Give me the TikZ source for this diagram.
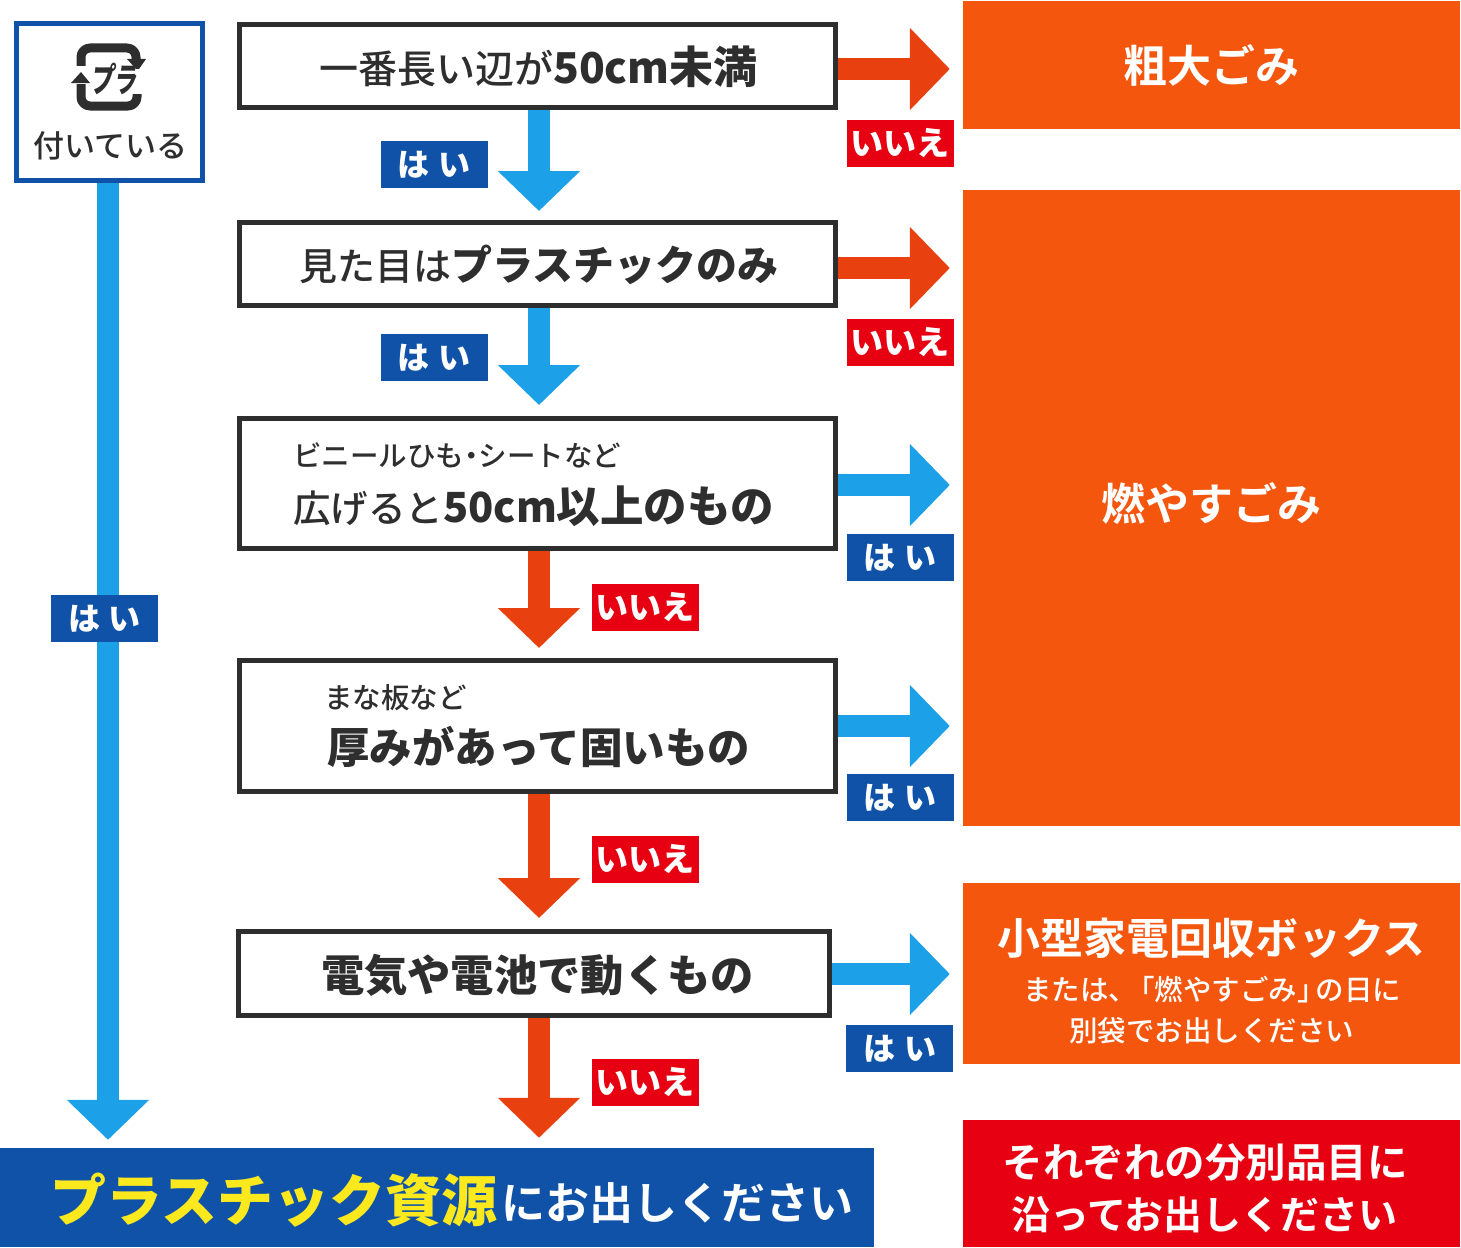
\documentclass[tikz,border=0pt]{standalone}
\usepackage{fontspec}
\usetikzlibrary{arrows.meta}
\newfontfamily\jpr{Noto Sans CJK JP Medium}
\newfontfamily\jpb{Noto Sans CJK JP Bold}
\newfontfamily\jpk{Noto Sans CJK JP Black}
\newcommand{\fsz}[1]{\fontsize{#1}{#1}\selectfont}
\definecolor{inkdark}{HTML}{2E2E2E}
\definecolor{orangefill}{HTML}{F4560E}
\definecolor{arrowred}{HTML}{E8410F}
\definecolor{arrowblue}{HTML}{1CA0E8}
\definecolor{labelblue}{HTML}{0F52A8}
\definecolor{labelred}{HTML}{E60012}
\definecolor{signyellow}{HTML}{FBE91E}
\tikzset{
  x=1pt,y=-1pt,
  qbox/.style={draw=inkdark,line width=5pt,fill=white,inner sep=0pt,text=inkdark},
  target/.style={fill=#1,inner sep=0pt,text=white,minimum width=497pt},
  yeslabel/.style={fill=labelblue,inner sep=0pt,minimum width=107pt,minimum height=47pt,text=white,font=\jpk\fsz{32}},
  nolabel/.style={fill=labelred,inner sep=0pt,minimum width=107pt,minimum height=47pt,text=white,font=\jpk\fsz{33}},
  plain/.style={inner sep=0pt},
  flowarrow/.style={line width=22pt,draw=#1,-{Triangle[length=40pt,width=80pt,fill=#1]}},
}
\begin{document}
\begin{tikzpicture}
\useasboundingbox (0,0) rectangle (1461,1247);
\fill[white] (0,0) rectangle (1461,1247);
% targets
\node[target=orangefill,minimum height=128pt,font=\jpb\fsz{44}] (t1) at (1211.5,65) {粗大ごみ};
\node[target=orangefill,minimum height=636pt] (t2) at (1211.5,508) {};
\node[plain,text=white,font=\jpb\fsz{44}] (t2text) at (1211.5,503) {燃やすごみ};
\node[target=orangefill,minimum height=181pt] (t3) at (1211.5,973.5) {};
\node[plain,text=white,font=\jpb\fsz{43}] (t3a) at (1211.5,938) {小型家電回収ボックス};
\node[plain,text=white,font=\jpr\fsz{28.5}] (t3b) at (1212,990) {または、\kern-11pt「燃やすごみ」\kern-10ptの日に};
\node[plain,text=white,font=\jpr\fsz{28.5}] (t3c) at (1211.5,1031) {別袋でお出しください};
\node[target=labelred,minimum height=127pt] (t4) at (1211.5,1183.5) {};
\node[plain,text=white,font=\jpb\fsz{40.5}] (t4a) at (1205,1162) {それぞれの分別品目に};
\node[plain,text=white,font=\jpb\fsz{39}] (t4b) at (1204.5,1215) {沿ってお出しください};
% bottom bar
\node[fill=labelblue,inner sep=0pt,minimum width=874pt,minimum height=99pt] (bar) at (437,1197.5) {};
\node[plain,anchor=west,text=signyellow,font=\jpk\fsz{56}] (bar1) at (50,1200) {プラスチック資源};
\node[plain,anchor=west,text=white,font=\jpb\fsz{44}] (bar2) at (501,1203) {にお出しください};
% question boxes
\node[qbox,minimum width=596pt,minimum height=83pt] (q1) at (537.5,66) {};
\node[plain,anchor=west,text=inkdark] (q1t) at (319,67) {{\jpr\fsz{39}一番長い辺が}{\jpk\fsz{42.5}50cm}{\jpk\fsz{44}未満}};
\node[qbox,minimum width=596pt,minimum height=83pt] (q2) at (537.5,264) {};
\node[plain,anchor=west,text=inkdark] (q2t) at (299,265) {{\jpr\fsz{38}見た目は}{\jpk\fsz{41}プラスチックのみ}};
\node[qbox,minimum width=596pt,minimum height=130pt] (q3) at (537.5,483.5) {};
\node[plain,anchor=west,text=inkdark,font=\jpr\fsz{28.5}] (q3a) at (293,455) {ビニールひも\kern-7pt・\kern-7ptシートなど};
\node[plain,anchor=west,text=inkdark] (q3b) at (293,506) {{\jpr\fsz{37.5}広げると}{\jpk\fsz{41.5}50cm}{\jpk\fsz{43.5}以上のもの}};
\node[qbox,minimum width=596pt,minimum height=131pt] (q4) at (537.5,726) {};
\node[plain,anchor=west,text=inkdark,font=\jpr\fsz{28.5}] (q4a) at (324,698) {まな板など};
\node[plain,anchor=west,text=inkdark,font=\jpk\fsz{42.5}] (q4b) at (327,747) {厚みがあって固いもの};
\node[qbox,minimum width=591pt,minimum height=84pt] (q5) at (534,973.5) {};
\node[plain,text=inkdark,font=\jpk\fsz{43.3}] (q5t) at (537.5,975) {電気や電池で動くもの};
% sign box
\node[draw=labelblue,line width=5pt,fill=white,inner sep=0pt,minimum width=186pt,minimum height=157pt] (sign) at (109.5,102) {};
\node[plain,text=inkdark,font=\jpr\fsz{31}] (signtext) at (110.5,146) {付いている};
% pictogram
\begin{scope}[draw=inkdark,line width=9pt,line join=round]
  \draw[rounded corners=9pt] (81,66) -- (81,48) -- (136,48) -- (136,60);
  \draw[rounded corners=9pt] (137,94) -- (137,106) -- (81,106) -- (81,84);
\end{scope}
\fill[inkdark] (127,59) -- (146,59) -- (139,69) -- (136,69) -- cycle;
\fill[inkdark] (71,83) -- (90,83) -- (81,72) -- cycle;
\node[plain,text=inkdark,font=\jpk\fsz{34},xscale=0.68,xslant=0.2,transform shape] (pla) at (115,79) {プラ};
% helpers for arrow lines
\coordinate (ya) at (0,69);
\coordinate (yb) at (0,268);
\coordinate (yc) at (0,485);
\coordinate (yd) at (0,726);
\coordinate (ye) at (0,974);
\coordinate (xd) at (539,0);
\coordinate (xl) at (108,0);
% right arrows
\draw[flowarrow=arrowred,shorten >=13pt] (q1.east |- ya) -- (t1.west |- ya);
\draw[flowarrow=arrowred,shorten >=13pt] (q2.east |- yb) -- (t2.west |- yb);
\draw[flowarrow=arrowblue,shorten >=13pt] (q3.east |- yc) -- (t2.west |- yc);
\draw[flowarrow=arrowblue,shorten >=13pt] (q4.east |- yd) -- (t2.west |- yd);
\draw[flowarrow=arrowblue,shorten >=13pt] (q5.east |- ye) -- (t3.west |- ye);
% down arrows
\draw[flowarrow=arrowblue,shorten >=9pt] (xd |- q1.south) -- (xd |- q2.north);
\draw[flowarrow=arrowblue,shorten >=11pt] (xd |- q2.south) -- (xd |- q3.north);
\draw[flowarrow=arrowred,shorten >=10pt] (xd |- q3.south) -- (xd |- q4.north);
\draw[flowarrow=arrowred,shorten >=11pt] (xd |- q4.south) -- (xd |- q5.north);
\draw[flowarrow=arrowred,shorten >=10pt] (xd |- q5.south) -- (xd |- bar.north);
\draw[flowarrow=arrowblue,shorten >=8pt] (xl |- sign.south) -- (xl |- bar.north);
% labels
\node[yeslabel] (y1) at (434,164.5) {は\kern9pt い};
\node[yeslabel] (y2) at (434,357.5) {は\kern9pt い};
\node[yeslabel] (y3) at (900,557.5) {は\kern9pt い};
\node[yeslabel] (y4) at (900,797.5) {は\kern9pt い};
\node[yeslabel] (y5) at (899.5,1048.5) {は\kern9pt い};
\node[yeslabel] (y6) at (104.5,618.5) {は\kern9pt い};
\node[nolabel] (n1) at (900,143.5) {いいえ};
\node[nolabel] (n2) at (900,342.5) {いいえ};
\node[nolabel] (n3) at (645,607.5) {いいえ};
\node[nolabel] (n4) at (645,859.5) {いいえ};
\node[nolabel] (n5) at (645,1082.5) {いいえ};
\end{tikzpicture}
\end{document}
